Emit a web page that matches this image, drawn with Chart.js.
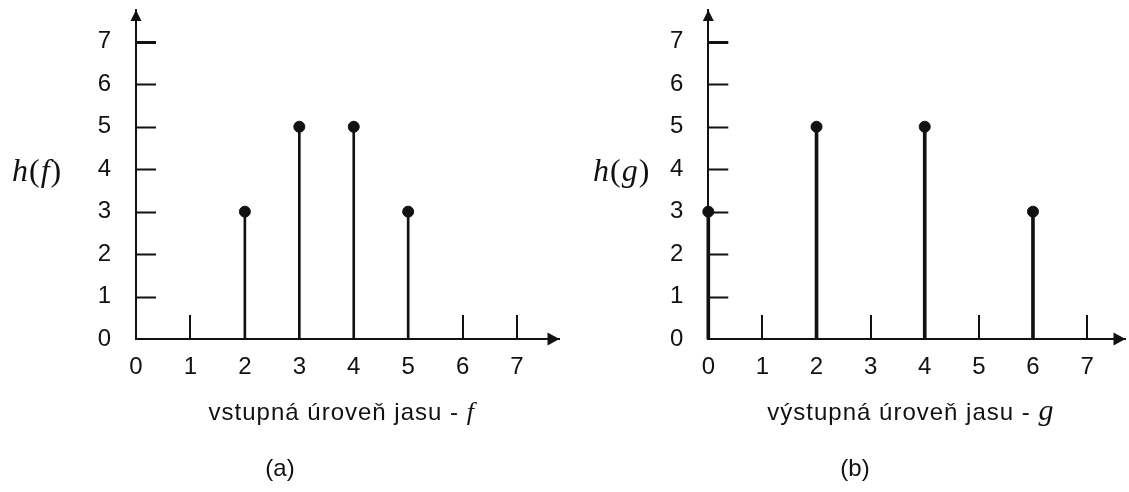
<!DOCTYPE html>
<html>
<head>
<meta charset="utf-8">
<script src="https://cdn.jsdelivr.net/npm/chart.js@4/dist/chart.umd.min.js"></script>
<style>
html,body{margin:0;padding:0;background:#fff;overflow:hidden;width:1129px;height:492px}
.box{position:absolute;top:0;height:492px}
#boxA{left:0;width:566px}
#boxB{left:581px;width:551px}
</style>
</head>
<body>
<div class="box" id="boxA"><canvas id="chartA"></canvas></div>
<div class="box" id="boxB"><canvas id="chartB"></canvas></div>
<script>
// brightness levels and histograms
const levels=[0,1,2,3,4,5,6,7];
const histIn=[0,0,3,5,5,3,0,0];   // h(f)
const histOut=[3,0,5,0,5,0,3,0];  // h(g)
const xTicks=[0,1,2,3,4,5,6,7];
const yTicks=[0,1,2,3,4,5,6,7];

const SANS='"Liberation Sans", Arial, sans-serif';
const SERIF='"Liberation Serif", "Times New Roman", serif';
const INK='#111';
const FS=24;

// inward tick marks, arrow heads and mixed-font labels
const axisDecor={
  id:'axisDecor',
  afterDraw(chart,args,o){
    const {ctx,chartArea:a,scales:{x,y}}=chart;
    ctx.save();
    ctx.strokeStyle=INK;ctx.fillStyle=INK;
    y.ticks.forEach(t=>{
      if(t.value===0)return;
      const py=Math.round(y.getPixelForValue(t.value))+0.5;
      ctx.lineWidth=t.value===7?3:2;
      ctx.beginPath();ctx.moveTo(a.left,py);ctx.lineTo(a.left+20,py);ctx.stroke();
    });
    ctx.lineWidth=2;
    x.ticks.forEach(t=>{
      if(t.value===0)return;
      const px=Math.round(x.getPixelForValue(t.value));
      ctx.beginPath();ctx.moveTo(px,a.bottom);ctx.lineTo(px,a.bottom-24);ctx.stroke();
    });
    // arrows
    ctx.beginPath();ctx.moveTo(a.right,a.bottom);ctx.lineTo(a.right-12,a.bottom-6.5);ctx.lineTo(a.right-12,a.bottom+6.5);ctx.closePath();ctx.fill();
    ctx.beginPath();ctx.moveTo(a.left,a.top);ctx.lineTo(a.left-5.5,a.top+11);ctx.lineTo(a.left+5.5,a.top+11);ctx.closePath();ctx.fill();
    // labels
    ctx.textBaseline='alphabetic';ctx.textAlign='left';
    const drawRich=(segs,x0,yb,center,sp)=>{
      ctx.letterSpacing=sp+'px';
      let w=0;
      segs.forEach(s=>{ctx.font=s[1];w+=ctx.measureText(s[0]).width;});
      let cx=center?x0-w/2:x0;
      segs.forEach(s=>{ctx.font=s[1];ctx.fillText(s[0],cx,yb);cx+=ctx.measureText(s[0]).width;});
    };
    drawRich(o.yTitle,o.yTitleX,o.yTitleY,false,1);
    drawRich(o.xTitle,(a.left+a.right)/2+o.xTitleDx,o.xTitleY,true,1);
    ctx.restore();
  }
};

function makeChart(id,hist,yTitle,xTitle,caption,xMax,yAxisW,padRight,stemW){
  const pts=levels.map((v,i)=>({x:v,y:hist[i]})).filter(p=>p.y>0);
  return new Chart(document.getElementById(id),{
    type:'scatter',
    data:{datasets:[
      {type:'bar',data:pts,backgroundColor:INK,barThickness:stemW,clip:false,order:2},
      {type:'scatter',data:pts,backgroundColor:INK,borderColor:INK,pointRadius:5.5,pointHoverRadius:5.5,clip:false,order:1}
    ]},
    options:{
      responsive:true,maintainAspectRatio:false,animation:false,
      events:[],
      layout:{padding:{top:10,right:padRight,left:0,bottom:0}},
      scales:{
        x:{type:'linear',min:0,max:xMax,offset:false,
          afterBuildTicks:s=>{s.ticks=xTicks.map(v=>({value:v}));},
          afterFit:s=>{s.height=117.6;s.paddingLeft=0;s.paddingRight=0;},
          grid:{display:false,drawTicks:false},
          border:{display:true,color:INK,width:2},
          ticks:{padding:14,color:INK,font:{family:SANS,size:FS},maxRotation:0}},
        y:{min:0,max:7.75,
          afterBuildTicks:s=>{s.ticks=yTicks.map(v=>({value:v}));},
          afterFit:s=>{s.width=yAxisW;s.paddingTop=0;s.paddingBottom=0;},
          grid:{display:false,drawTicks:false},
          border:{display:true,color:INK,width:2},
          ticks:{padding:25,color:INK,font:{family:SANS,size:FS}}}
      },
      plugins:{
        legend:{display:false},tooltip:{enabled:false},
        title:{display:true,position:'bottom',text:caption,color:INK,
          font:{family:SANS,size:FS,weight:'normal',lineHeight:1.1},padding:{top:0,bottom:9}},
        axisDecor:{yTitle,yTitleX:12,yTitleY:181,xTitle,xTitleDx:-6,xTitleY:420}
      }
    },
    plugins:[axisDecor]
  });
}

makeChart('chartA',histIn,
  [['h','italic 32px '+SERIF],['(','32px '+SERIF],['f','italic 32px '+SERIF],[')','32px '+SERIF]],
  [['vstupná úroveň jasu - ',FS+'px '+SANS],['f','italic 26px '+SERIF]],
  '(a)',7.78,136,6,2);
makeChart('chartB',histOut,
  [['h','italic 32px '+SERIF],['(','32px '+SERIF],['g','italic 32px '+SERIF],[')','32px '+SERIF]],
  [['výstupná úroveň jasu - ',FS+'px '+SANS],['g','italic 30px '+SERIF]],
  '(b)',7.71,127.3,3,3);
</script>
</body>
</html>
